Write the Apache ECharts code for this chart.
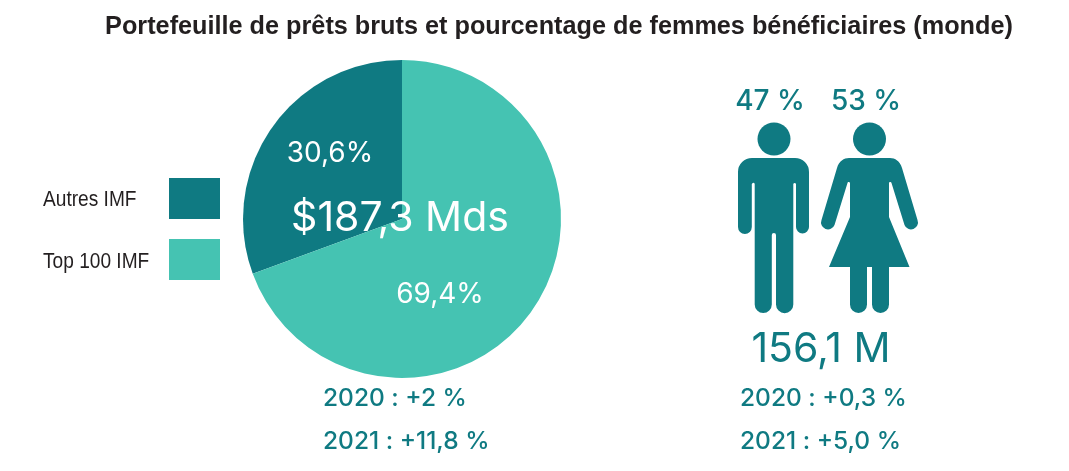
<!DOCTYPE html>
<html><head><meta charset="utf-8">
<script src="https://cdn.jsdelivr.net/npm/echarts@6/dist/echarts.min.js"></script>
<style>html,body{margin:0;padding:0;background:#fff}#c{width:1069px;height:471px}</style>
</head><body><div id="c"></div>
<script>
const titleText = 'Portefeuille de prêts bruts et pourcentage de femmes bénéficiaires (monde)';
const categories = ['Autres IMF', 'Top 100 IMF'];
const shares = [30.6, 69.4];
const shareLabels = ['30,6%', '69,4%'];
const totalLabel = '$187,3 Mds';
const pieGrowth = ['2020 : +2 %', '2021 : +11,8 %'];
const genderLabels = ['47 %', '53 %'];
const clientsLabel = '156,1 M';
const clientGrowth = ['2020 : +0,3 %', '2021 : +5,0 %'];

const DARK = '#0f7a82', LIGHT = '#45c3b2';
const GEO = 'Inter, Lato, sans-serif';
const labelPos = [{x: 330, y: 154}, {x: 440, y: 295}];
const manPath = 'M752 158H795A14 14 0 0 1 809 172V227A6.5 6.5 0 0 1 796 227V184A1.5 1.5 0 0 0 793.3 184V304.5A8.6 8.6 0 0 1 776 304.5V235A2.1 2.1 0 0 0 771.8 235V304.5A8.5 8.5 0 0 1 754.7 304.5V184A1.5 1.5 0 0 0 751.8 184V227A6.9 6.9 0 0 1 738 227V172A14 14 0 0 1 752 158Z';
const womanPath = 'M849 158H890C895 158 900 161 902 168L917.5 220A6.7 6.7 0 0 1 904.5 225L891.5 183A1.3 1.3 0 0 0 889 183V217L909.5 267H889V304.5A8.5 8.5 0 0 1 872 304.5V267H867V304.5A8.5 8.5 0 0 1 850 304.5V267H829L850 217V183A1.3 1.3 0 0 0 847.5 183L834.5 225A6.7 6.7 0 0 1 821.5 220L837 168C839 161 844 158 849 158Z';
echarts.graphic.registerShape('manFigure', echarts.graphic.extendPath(manPath, {}));
echarts.graphic.registerShape('womanFigure', echarts.graphic.extendPath(womanPath, {}));

function txt(x, y, text, size, fill, weight, align) {
  return {type: 'text', x, y, z: 20, style: {text, fill, align: align || 'center', verticalAlign: 'middle',
    font: `${weight || 400} ${size}px ${GEO}`}};
}
function legendText(y, text) {
  return {type: 'text', x: 43, y, scaleX: 0.85, z: 20, style: {text, fill: '#231f20', align: 'left', verticalAlign: 'middle',
    font: '400 22.5px "Liberation Sans", sans-serif'}};
}

const chart = echarts.init(document.getElementById('c'), null, {renderer: 'canvas'});
chart.setOption({
  animation: false,
  title: {text: titleText, left: 554, top: 10, textAlign: 'center',
    textStyle: {fontFamily: '"Liberation Sans", Arial, sans-serif', fontWeight: 700, fontSize: 25.25, color: '#231f20'}},
  legend: {
    orient: 'vertical', left: 169, top: 178, itemWidth: 51, itemHeight: 41, itemGap: 20, padding: 0,
    icon: 'rect', data: categories, selectedMode: false,
    formatter: () => ''
  },
  series: [{
    type: 'pie', center: [402, 219], radius: [0, 159], startAngle: 90, clockwise: false,
    silent: true,
    data: categories.map((name, i) => ({name, value: shares[i], itemStyle: {color: i === 0 ? DARK : LIGHT}})),
    label: {position: 'inside', formatter: p => shareLabels[p.dataIndex], color: '#fff', fontFamily: GEO, fontSize: 28},
    labelLine: {show: false},
    labelLayout: p => ({x: labelPos[p.dataIndex].x, y: labelPos[p.dataIndex].y, align: 'center', verticalAlign: 'middle'})
  }],
  graphic: [
    legendText(200, categories[0]),
    legendText(262, categories[1]),
    txt(400, 219, totalLabel, 41, '#fff'),
    txt(323, 399, pieGrowth[0], 24.5, DARK, 500, 'left'),
    txt(323, 442, pieGrowth[1], 24.5, DARK, 500, 'left'),
    txt(770, 102, genderLabels[0], 28, DARK, 500),
    txt(866, 102, genderLabels[1], 28, DARK, 500),
    txt(821, 350, clientsLabel, 41, DARK, 400),
    txt(740, 399, clientGrowth[0], 24.5, DARK, 500, 'left'),
    txt(740, 442, clientGrowth[1], 24.5, DARK, 500, 'left'),
    {type: 'circle', shape: {cx: 774, cy: 139, r: 16.5}, style: {fill: DARK}},
    {type: 'circle', shape: {cx: 869.5, cy: 139, r: 16.5}, style: {fill: DARK}},
    {type: 'manFigure', style: {fill: DARK}},
    {type: 'womanFigure', style: {fill: DARK}}
  ]
});
</script></body></html>
